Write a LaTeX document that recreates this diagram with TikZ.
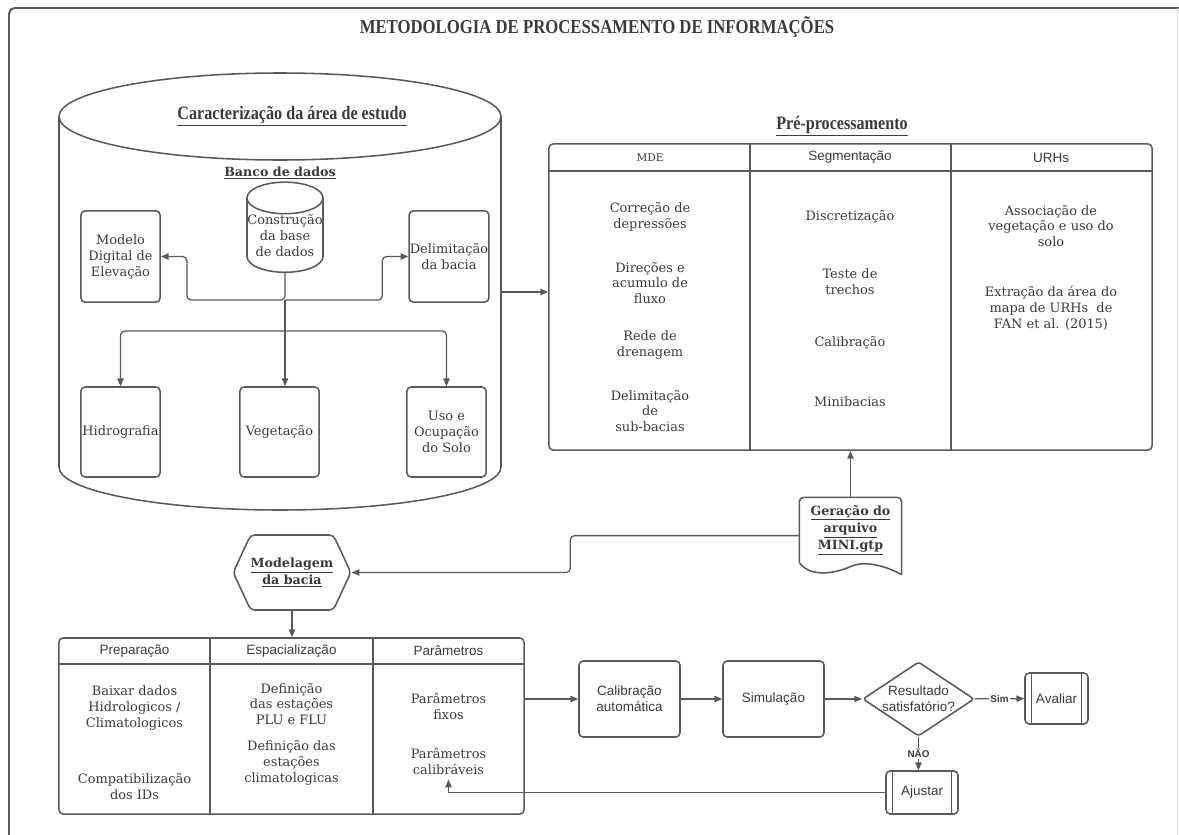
\documentclass[tikz,border=0pt]{standalone}
\usepackage{fontspec}
\setmainfont{DejaVu Serif}
\setsansfont{Liberation Sans}
\newfontfamily\headfont[FakeStretch=0.85]{Liberation Serif}
\usetikzlibrary{arrows.meta,positioning,calc,shapes.geometric,shapes.symbols}
\definecolor{ln}{HTML}{595959}
\definecolor{tx}{HTML}{3A3A3A}

\begin{document}
\begin{tikzpicture}[x=0.025cm,y=-0.025cm,>={Triangle[length=5.5pt,width=4.5pt]},
  font=\fontsize{9.2}{11.3}\selectfont,color=ln,text=tx,line width=0.9pt]
\tikzstyle{b}=[draw,rounded corners=3pt,line width=1.1pt,align=center,inner sep=0.5pt]
\tikzstyle{hd}=[font=\sffamily\fontsize{9.6}{11.3}\selectfont]
\tikzstyle{ttl}=[font=\headfont\bfseries\fontsize{13.5}{15}\selectfont]
\tikzstyle{bt}=[font=\bfseries\fontsize{9}{12}\selectfont,align=center]
\tikzstyle{c}=[align=center]
\tikzstyle{pp}=[b,hd,path picture={
  \draw[ln,line width=1.1pt] ([xshift=4.5pt]path picture bounding box.south west) -- ([xshift=4.5pt]path picture bounding box.north west)
    ([xshift=-4.5pt]path picture bounding box.south east) -- ([xshift=-4.5pt]path picture bounding box.north east);}]
\tikzstyle{yn}=[fill=white,inner sep=1pt,font=\sffamily\bfseries\fontsize{7}{8}\selectfont]
\useasboundingbox (0,0) rectangle (1179,835);
% frame
\draw[line width=1.4pt,rounded corners=4pt] (9,845) -- (9,8) -- (1185,8);
\draw[black!12,line width=0.6pt] (1177,8) -- (1177,845);
\node[font=\headfont\bfseries\fontsize{14}{16}\selectfont] (title) at (597,27) {METODOLOGIA DE PROCESSAMENTO DE INFORMAÇÕES};

% caracterizacao: banco de dados
\draw[line width=1.1pt] (280,116.5) ellipse [x radius=221, y radius=43.5];
\draw[line width=1.1pt] (59,116.5) -- (59,467) .. controls (59,490.7) and (158,510) .. (280,510)
  .. controls (402,510) and (501,490.7) .. (501,467) -- (501,116.5);
\coordinate (dbE) at (501,292);
\node[ttl] (carac) at (292,116) {\underline{Caracterização da área de estudo}};
\node[bt] (banco) at (280,173) {\underline{Banco de dados}};
\node[cylinder,shape border rotate=90,draw,aspect=0.42,minimum width=1.9cm,minimum height=1.875cm,
  line width=1.1pt,align=center,inner sep=0pt] (build) at (285,235.5) {Construção\\da base\\de dados};
\node[b,minimum width=1.98cm,minimum height=2.28cm] (mde) at (120.5,256.5) {Modelo\\Digital de\\Elevação};
\node[b,minimum width=1.98cm,minimum height=2.28cm] (delim) at (449,256.5) {Delimitação\\da bacia};
\node[b,minimum width=1.98cm,minimum height=2.25cm] (hidro) at (120.5,432) {Hidrografia};
\node[b,minimum width=1.98cm,minimum height=2.25cm] (veg) at (279.5,432) {Vegetação};
\node[b,minimum width=1.98cm,minimum height=2.25cm] (uso) at (446.5,432) {Uso e\\Ocupação\\do Solo};
\coordinate (j1) at (285,300);
\coordinate (j2) at (285,331);
\draw[->,rounded corners=3pt] (build.south) -- (j1) -| ($(mde.east)+(26,0)$) -- (mde.east);
\draw[->,rounded corners=3pt] (j1) -| ($(delim.west)+(-26,0)$) -- (delim.west);
\draw[->] (j1) -- (j1 |- veg.north);
\draw[->,rounded corners=3pt] (j2) -| (hidro.north);
\draw[->,rounded corners=3pt] (j2) -| (uso.north);

% pre-processamento
\node[ttl] (pretit) at (842,126) {\underline{Pré-processamento}};
\node[b,minimum width=15.075cm,minimum height=7.65cm] (pre) at (850.5,297) {};
\draw[line width=1.1pt] (549,171) -- (1152,171);
\draw[line width=1.1pt] (750,144) -- (750,450);
\draw[line width=1.1pt] (951,144) -- (951,450);
\node[font=\fontsize{7.5}{9}\selectfont] (mdeh) at (650,157.5) {MDE};
\node[hd] (segh) at (850,157.5) {Segmentação};
\node[hd] (urhh) at (1051,157.5) {URHs};
\node[c] (corr) at (650,217) {Correção de\\depressões};
\node[c] (dir) at (650,283) {Direções e\\acumulo de\\fluxo};
\node[c] (rede) at (650,345) {Rede de\\drenagem};
\node[c] (subb) at (650,411) {Delimitação\\de\\sub-bacias};
\node[c] (disc) at (850,217) {Discretização};
\node[c] (tst) at (850,282) {Teste de\\trechos};
\node[c] (calp) at (850,343) {Calibração};
\node[c] (mini) at (850,402) {Minibacias};
\node[c] (assoc) at (1051,226) {Associação de\\vegetação e uso do\\solo};
\node[c] (extr) at (1051,308) {Extração da área do\\mapa de URHs~~de\\FAN et al. (2015)};
\draw[->] (dbE) -- (dbE -| pre.west);

% arquivo MINI.gtp
\node[bt,minimum width=2.525cm,minimum height=1.6cm,inner sep=0pt] (gen) at (850.5,530) {\underline{Geração do}\\\underline{arquivo}\\\underline{MINI.gtp}};
\draw[line width=1.1pt,rounded corners=3pt] (gen.south west) -- (gen.north west) -- (gen.north east) -- ($(gen.south east)+(0,12)$);
\draw[line width=1.1pt] (gen.south west) .. controls +(12,16) and +(-14,6) .. ($(gen.south)+(0,4)$)
  .. controls +(14,-7) and +(-14,-8) .. ($(gen.south east)+(0,12)$);
\draw[->] (gen.north) -- (gen.north |- pre.south);

% modelagem
\node[draw,signal,signal to=west and east,signal pointer angle=130,minimum width=2.5cm,minimum height=1.875cm,
  line width=1.1pt,rounded corners=3pt,bt,inner sep=0pt] (model) at (292,572.5) {\underline{Modelagem}\\\underline{da bacia}};
\draw[->,rounded corners=3pt] ([yshift=-4pt]gen.west) -- ++(-229,0) |- (model.east);

\node[b,minimum width=11.625cm,minimum height=4.4cm] (bot) at (291.5,726) {};
\draw[line width=1.1pt] (59,664) -- (524,664);
\draw[line width=1.1pt] (210,638) -- (210,814);
\draw[line width=1.1pt] (373,638) -- (373,814);
\draw[->] (model.south) -- (model.south |- bot.north);
\node[hd] (preph) at (134.5,651) {Preparação};
\node[hd] (esph) at (291.5,651) {Espacialização};
\node[hd] (parh) at (448.5,651) {Parâmetros};
\node[c] (baix) at (134.5,708) {Baixar dados\\Hidrologicos /\\Climatologicos};
\node[c] (compat) at (134.5,787) {Compatibilização\\dos IDs};
\node[c] (defp) at (291.5,704) {Definição\\das estações\\PLU e FLU};
\node[c] (defc) at (291.5,763) {Definição das\\estações\\climatologicas};
\node[c] (pfix) at (448.5,706) {Parâmetros\\fixos};
\node[c] (pcal) at (448.5,761) {Parâmetros\\calibráveis};

% calibracao
\node[b,hd,minimum width=2.525cm,minimum height=1.9cm] (calib) at (629.5,699) {Calibração\\automática};
\node[b,hd,minimum width=2.525cm,minimum height=1.9cm] (simul) at (773.5,699) {Simulação};
\node[draw,diamond,aspect=1.5,minimum width=2.775cm,minimum height=1.85cm,inner sep=0pt,line width=1.1pt,
  rounded corners=2pt,hd,align=center] (resul) at (918.5,699) {Resultado\\satisfatório?};
\node[pp,minimum width=1.575cm,minimum height=1.275cm] (aval) at (1056.5,698.5) {Avaliar};
\node[pp,minimum width=1.8cm,minimum height=1.075cm] (ajus) at (922,792.5) {Ajustar};
\draw[->] (bot.east |- calib.west) -- (calib.west);
\draw[->] (calib) -- (simul);
\draw[->] (simul) -- (resul);
\draw[->] (resul) -- node[yn]{Sim} (aval);
\draw[->] (resul.south) -- node[yn]{NÃO} (resul.south |- ajus.north);
\draw[->] (ajus.west) -| (pcal.south);
\end{tikzpicture}
\end{document}
